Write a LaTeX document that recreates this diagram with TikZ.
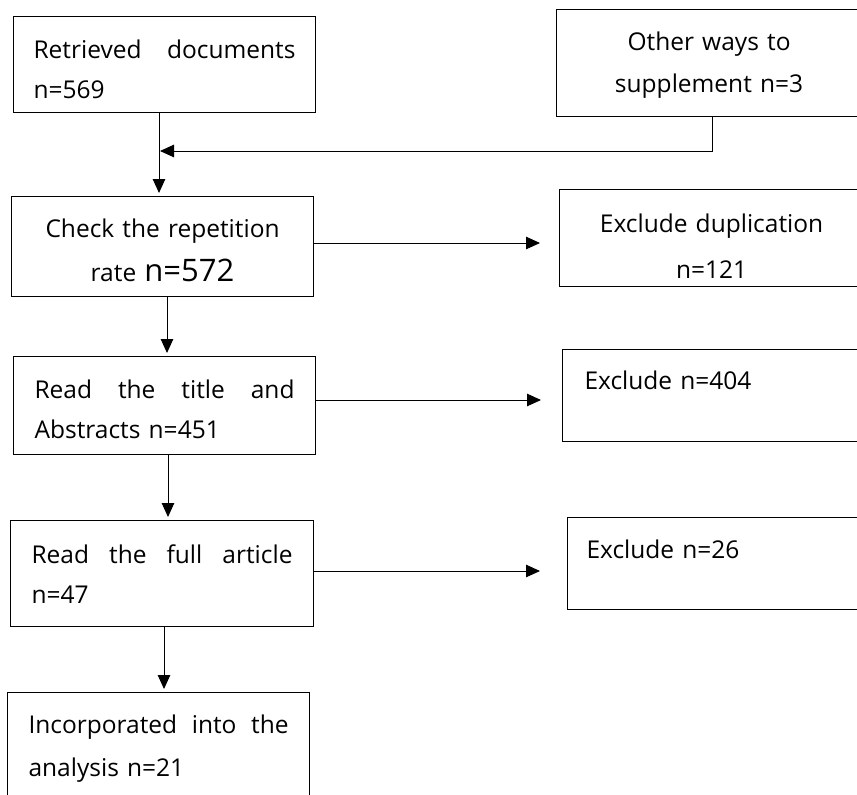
\documentclass[tikz,border=0pt]{standalone}
\usepackage{fontspec}
\setmainfont{Open Sans}
\usetikzlibrary{arrows.meta}
\newcommand{\topr}[1]{\rule{0pt}{#1pt}}
\newcommand{\botr}[1]{\rule[-#1pt]{0pt}{0pt}}
\begin{document}
\begin{tikzpicture}[x=1pt,y=-1pt,
  box/.style={draw, line width=1.1pt, rectangle, inner ysep=0pt,
    font=\fontsize{24.5}{40}\selectfont},
  arr/.style={line width=1pt, -{Triangle[length=14pt,width=12.5pt]}}]
\useasboundingbox (0,0) rectangle (857,795);
\clip (0,0) rectangle (857,795);
% left column
\node[box, anchor=north west, minimum width=302pt, minimum height=96pt,
  inner xsep=20pt, text width=262pt, align=left] (b1) at (13,16)
  {\topr{28.6}Retrieved\hfill documents\\n=569};
\node[box, anchor=north west, minimum width=302pt, minimum height=100pt,
  inner xsep=20pt, text width=262pt, align=center] (b2) at (11,196)
  {\topr{26.6}Check the repetition\\[4pt]rate {\fontsize{31}{40}\selectfont n=572}};
\node[box, anchor=north west, minimum width=302pt, minimum height=98pt,
  inner xsep=21pt, text width=260pt, align=left] (b3) at (13,356)
  {\topr{26.6}Read\hfill the\hfill title\hfill and\\Abstracts n=451};
\node[box, anchor=north west, minimum width=303pt, minimum height=106pt,
  inner xsep=21pt, text width=261pt, align=left] (b4) at (10,520)
  {\topr{20.6}Read\hfill the\hfill full\hfill article\\n=47};
\node[box, anchor=north west, minimum width=302pt, minimum height=118pt,
  inner xsep=21pt, text width=260pt, align=left] (b5) at (7,692)
  {Incorporated\hfill into\hfill the\\[3pt]analysis n=21\botr{12}};
% right column
\node[box, anchor=north west, minimum width=305pt, minimum height=107pt,
  inner xsep=20pt, text width=265pt, align=center] (b0) at (556,9)
  {\topr{22.6}Other ways to\\[2pt]supplement n=3};
\node[box, anchor=north west, minimum width=304pt, minimum height=97pt,
  inner xsep=20pt, text width=264pt, align=center] (e1) at (559,189)
  {\topr{34}Exclude duplication\\[6pt]n=121};
\node[box, anchor=north west, minimum width=300pt, minimum height=92pt,
  inner xsep=22pt, text width=256pt, align=left] (e2) at (562,349)
  {\topr{22.6}Exclude n=404\\[-6pt]~};
\node[box, anchor=north west, minimum width=296pt, minimum height=92pt,
  inner xsep=19pt, text width=258pt, align=left] (e3) at (567,517)
  {\topr{24.6}Exclude n=26\\[-6pt]~};
% helper coordinates
\coordinate (c1) at (159,0);
\coordinate (c2) at (167,0);
\coordinate (c3) at (168,0);
\coordinate (c4) at (164,0);
\coordinate (j1) at (160,151);
\coordinate (j2) at (712,151);
\coordinate (r1) at (0,243);
\coordinate (r2) at (0,400);
\coordinate (r3) at (0,571);
% connectors
\draw[arr, shorten >=3pt] (b1.south -| c1) -- (b2.north -| c1);
\draw[arr] (b0.south -| j2) -- (j2) -- (j1);
\draw[arr, shorten >=3pt] (b2.south -| c2) -- (b3.north -| c2);
\draw[arr, shorten >=3pt] (b3.south -| c3) -- (b4.north -| c3);
\draw[arr, shorten >=3pt] (b4.south -| c4) -- (b5.north -| c4);
\draw[arr, shorten >=19pt] (b2.east |- r1) -- (e1.west |- r1);
\draw[arr, shorten >=21pt] (b3.east |- r2) -- (e2.west |- r2);
\draw[arr, shorten >=27pt] (b4.east |- r3) -- (e3.west |- r3);
\end{tikzpicture}
\end{document}
